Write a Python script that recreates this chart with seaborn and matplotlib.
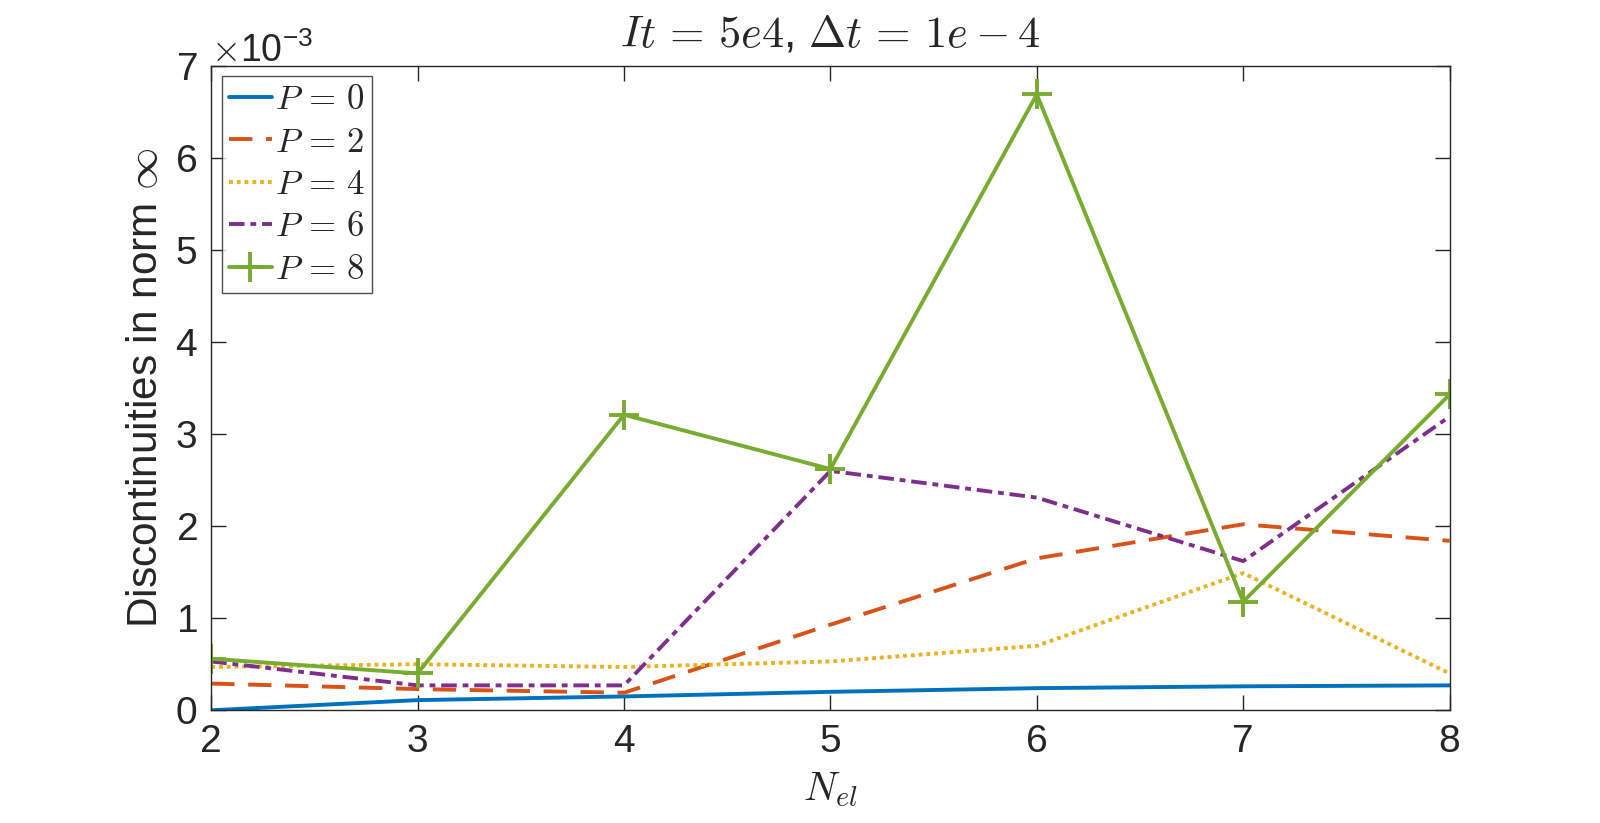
import numpy as np
import pandas as pd
import matplotlib
matplotlib.use("Agg")
import matplotlib.pyplot as plt
import seaborn as sns
from matplotlib.ticker import ScalarFormatter

# number of elements
n_el = [2, 3, 4, 5, 6, 7, 8]

# discontinuities in norm inf (units of 1e-3)
p0 = [0.00, 0.11, 0.15, 0.20, 0.24, 0.26, 0.27]
p2 = [0.29, 0.23, 0.19, 0.93, 1.65, 2.02, 1.84]
p4 = [0.47, 0.50, 0.47, 0.53, 0.70, 1.49, 0.40]
p6 = [0.53, 0.27, 0.27, 2.60, 2.31, 1.62, 3.19]
p8 = [0.56, 0.40, 3.21, 2.62, 6.69, 1.18, 3.43]

orders = [0, 2, 4, 6, 8]
series = [p0, p2, p4, p6, p8]

colors = ['#0072BD', '#D95319', '#EDB120', '#7E2F8E', '#77AC30']
styles = ['-', (0, (6, 3.5)), (0, (1, 1)), (0, (4, 1.5, 1.5, 1.5)), '-']
markers = [None, None, None, None, '+']

sns.set_theme(style='ticks')
plt.rcParams['font.family'] = ['Liberation Sans', 'DejaVu Sans']
plt.rcParams['mathtext.fontset'] = 'cm'

fig = plt.figure(figsize=(16, 8.23), dpi=100)
ax = fig.add_axes([0.132, 0.137, 0.774, 0.783])

for p, vals, c, ls, m in zip(orders, series, colors, styles, markers):
    df = pd.DataFrame({'N': n_el, 'val': np.array(vals) * 1e-3})
    sns.lineplot(data=df, x='N', y='val', ax=ax, color=c, linestyle=ls,
                 linewidth=2.8, marker=m, markersize=21, markeredgewidth=2.8,
                 markeredgecolor=c, label=rf'$P\,=\,{p}$')

ax.set_xlim(2, 8)
ax.set_ylim(0, 7e-3)
ax.set_xticks(n_el)
ax.set_yticks(np.arange(0, 8) * 1e-3)

fmt = ScalarFormatter(useMathText=True)
fmt.set_powerlimits((-2, 2))
ax.yaxis.set_major_formatter(fmt)
ax.yaxis.get_offset_text().set_fontsize(27)
ax.yaxis.get_offset_text().set_color('#262626')

for s in ax.spines.values():
    s.set_visible(True)
    s.set_color('#262626')
    s.set_linewidth(1.0)
ax.tick_params(direction='in', length=11, width=1, top=True, right=True,
               labelsize=28, colors='#262626', pad=10)

ax.set_xlabel('$N_{el}$', fontsize=29, labelpad=7)
ax.set_ylabel(r'Discontinuities in norm $\infty$', fontsize=30.5, labelpad=6)
ax.set_title(r'$It\,=\,5e4$, $\Delta t\,=\,1e-4$', fontsize=32, pad=14)

leg = ax.legend(loc='upper left', fontsize=25, handlelength=1.25,
                handletextpad=0.1, labelspacing=0.27, borderpad=0.2,
                borderaxespad=0.3, frameon=True, fancybox=False)
leg.get_frame().set_edgecolor('#262626')
leg.get_frame().set_linewidth(1.0)

fig.savefig('out.png', dpi=100)
